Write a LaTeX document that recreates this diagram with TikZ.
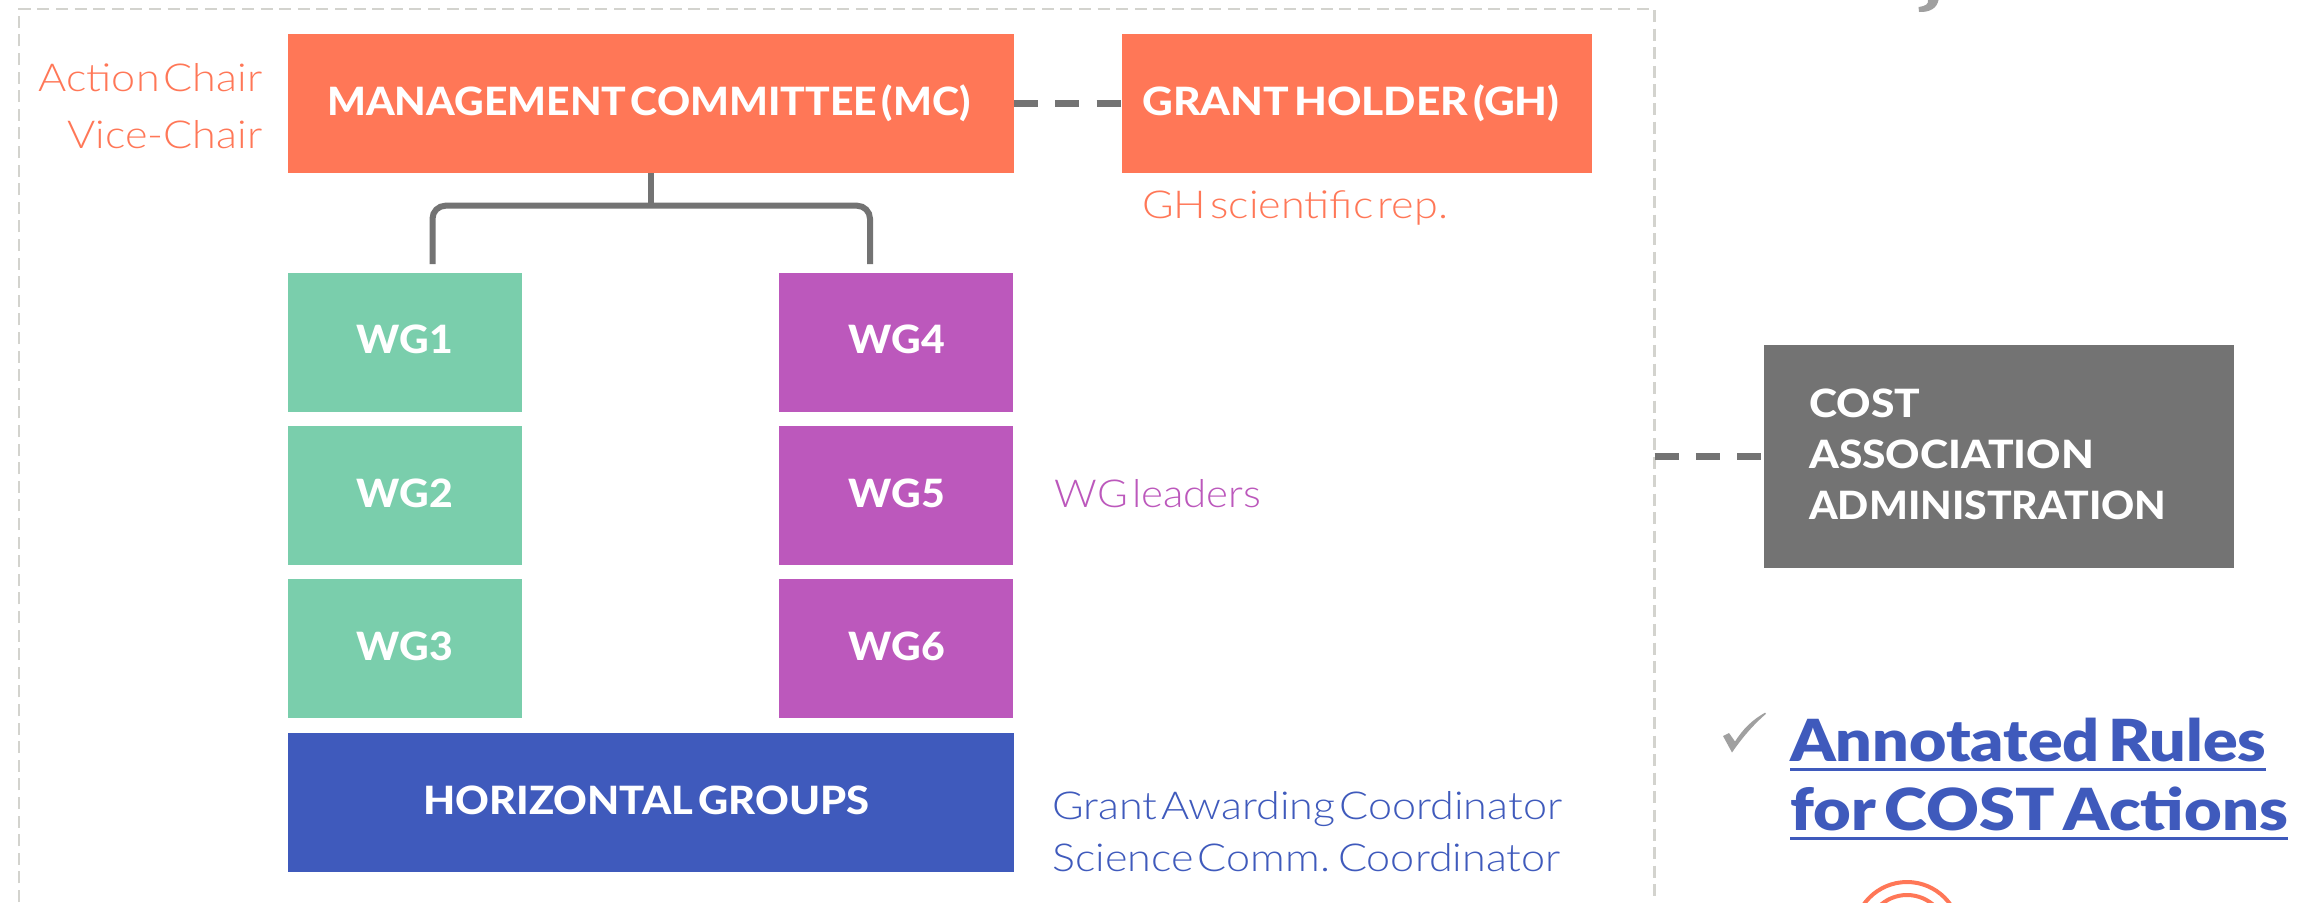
\documentclass[tikz,border=0pt]{standalone}
\usepackage{fontspec}
\setmainfont{Lato}
\newfontfamily\lightf[FakeStretch=1.12,WordSpace=0.35]{Lato Light}
\newfontfamily\lightnarrow[FakeStretch=1.09,WordSpace=0.35]{Lato Light}
\newfontfamily\heavyf[FakeStretch=1.05,WordSpace=0.45]{Lato Heavy}
\newfontfamily\heavymid[FakeStretch=1.07,WordSpace=0.5]{Lato Heavy}
\newfontfamily\heavywide[FakeStretch=1.09,WordSpace=0.5]{Lato Heavy}
\newfontfamily\blackf[FakeStretch=1.11,WordSpace=0.6]{Lato Black}
\newfontfamily\blackwide[FakeStretch=1.12,WordSpace=0.6]{Lato Black}
\definecolor{coral}{HTML}{FF7757}
\definecolor{mint}{HTML}{7ACEAC}
\definecolor{violet2}{HTML}{BC58BC}
\definecolor{royal}{HTML}{3F5ABC}
\definecolor{slate}{HTML}{737373}
\definecolor{framegray}{HTML}{D3D3CE}
\definecolor{softgray}{HTML}{A0A0A0}
\begin{document}
\begin{tikzpicture}[x=1pt,y=-1pt,
  box/.style={anchor=north west,inner sep=0pt,outer sep=0pt},
  boldtxt/.style={anchor=base west,inner sep=0pt,text=white,font=\heavyf\fontsize{39}{39}\selectfont},
  boldmid/.style={anchor=base west,inner sep=0pt,text=white,font=\heavymid\fontsize{39}{39}\selectfont},
  boldwide/.style={anchor=base west,inner sep=0pt,text=white,font=\heavywide\fontsize{39}{39}\selectfont},
  lighttxt/.style={anchor=base west,inner sep=0pt,font=\lightf\fontsize{38.5}{38.5}\selectfont},
  link/.style={draw=slate,line width=6pt},
  dashlink/.style={draw=slate,line width=6.5pt,dash pattern=on 24pt off 17.3pt}]
\useasboundingbox (0,0) rectangle (2312,902);
\fill[white] (0,0) rectangle (2312,902);
\draw[framegray,line width=2.2pt,dash pattern=on 12pt off 6.6pt] (19,902) -- (19,9) -- (1654.5,9) -- (1654.5,902);
\node[box,fill=coral,minimum width=726pt,minimum height=139pt] (mc) at (288,34) {};
\node[box,fill=coral,minimum width=470pt,minimum height=139pt] (gh) at (1122,34) {};
\node[box,fill=mint,minimum width=234pt,minimum height=139pt] (wg1) at (288,273) {};
\node[box,fill=mint,minimum width=234pt,minimum height=139pt] (wg2) at (288,426) {};
\node[box,fill=mint,minimum width=234pt,minimum height=139pt] (wg3) at (288,579) {};
\node[box,fill=violet2,minimum width=234pt,minimum height=139pt] (wg4) at (779,273) {};
\node[box,fill=violet2,minimum width=234pt,minimum height=139pt] (wg5) at (779,426) {};
\node[box,fill=violet2,minimum width=234pt,minimum height=139pt] (wg6) at (779,579) {};
\node[box,fill=royal,minimum width=726pt,minimum height=139pt] (hg) at (288,733) {};
\node[box,fill=slate,minimum width=470pt,minimum height=223pt] (cost) at (1764,345) {};
\coordinate (framepoint) at (1654.5,456.7);
\coordinate (junction) at (651.3,205.7);
\coordinate (leftend) at (432.5,264);
\coordinate (rightend) at (870,264);
\draw[dashlink] (mc.east) -- (gh.west);
\draw[dashlink] (framepoint) -- (cost.west |- framepoint);
\draw[link] (mc.south -| junction) -- (junction);
\draw[link,rounded corners=13pt] (leftend) -- (leftend |- junction) -- (rightend |- junction) -- (rightend);
\node[boldtxt] (tmc) at (327,115) {MANAGEMENT COMMITTEE (MC)};
\node[boldwide] (tgh) at (1142,115) {GRANT HOLDER (GH)};
\node[boldtxt] (t1) at (356.5,353) {WG1};
\node[boldtxt] (t2) at (356.5,507) {WG2};
\node[boldtxt] (t3) at (356.5,660) {WG3};
\node[boldtxt] (t4) at (848.5,353) {WG4};
\node[boldtxt] (t5) at (848.5,507) {WG5};
\node[boldtxt] (t6) at (848.5,660) {WG6};
\node[boldmid] (thg) at (423,814) {HORIZONTAL GROUPS};
\node[boldwide] (tc1) at (1809,417) {COST};
\node[boldwide] (tc2) at (1809,468) {ASSOCIATION};
\node[boldtxt] (tc3) at (1809,519) {ADMINISTRATION};
\node[lighttxt,text=coral,anchor=base east] (ac) at (262.5,91) {Action Chair};
\node[lighttxt,text=coral,anchor=base east] (vc) at (262.5,148) {Vice-Chair};
\node[lighttxt,text=coral] (gsr) at (1142,218) {GH scientific rep.};
\node[lighttxt,font=\lightnarrow\fontsize{38.5}{38.5}\selectfont,text=violet2] (wl) at (1054.5,507) {WG leaders};
\node[lighttxt,text=royal] (gac) at (1052,819) {Grant Awarding Coordinator};
\node[lighttxt,text=royal] (scc) at (1052,871) {Science Comm. Coordinator};
\node[anchor=base west,inner sep=0pt,text=royal,font=\blackf\fontsize{58}{58}\selectfont] (ar) at (1790,761) {Annotated Rules};
\node[anchor=base west,inner sep=0pt,text=royal,font=\blackwide\fontsize{58}{58}\selectfont] (fc) at (1790,830) {for COST Actions};
\fill[royal] (1790,767.5) rectangle (2266,770.5);
\fill[royal] (1790,836.5) rectangle (2288,839.5);
\fill[softgray] (1723,736) -- (1729,733) -- (1735,741.5) .. controls (1743,729) and (1752,720) .. (1765,712.7) -- (1766,713.8) .. controls (1753,725) and (1742,738) .. (1732,752.5) -- cycle;
\fill[softgray] (1928,0) .. controls (1928.5,4) and (1926,6) .. (1918.5,7) -- (1919,12) .. controls (1930,12.5) and (1937,8) .. (1938.5,0) -- cycle;
\begin{scope}
\clip (1800,870) rectangle (2000,902);
\draw[coral,line width=4pt] (1907,935) circle[radius=53];
\draw[coral,line width=4pt] (1907,935) circle[radius=40];
\end{scope}
\end{tikzpicture}
\end{document}
